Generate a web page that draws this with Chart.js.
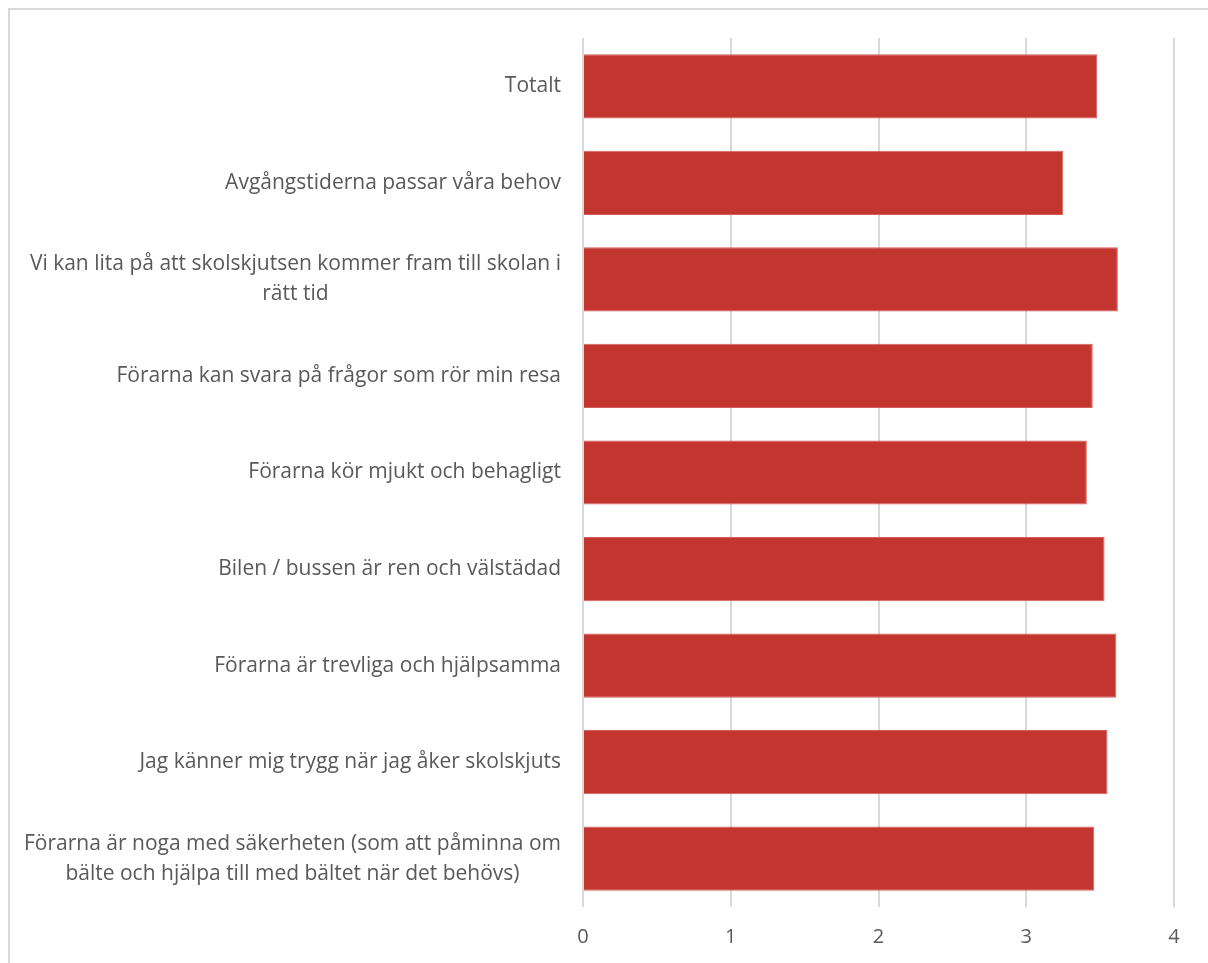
<!DOCTYPE html>
<html>
<head>
<meta charset="utf-8">
<script src="https://cdn.jsdelivr.net/npm/chart.js@4/dist/chart.umd.min.js"></script>
<style>
    html, body { margin: 0; padding: 0; background: #fff; overflow: hidden; }
    .wrap { position: relative; width: 1208px; height: 963px; }
    .frame { position: absolute; left: 8px; top: 8px; width: 1400px; height: 1200px; border: 2px solid #d9d9d9; box-sizing: border-box; }
    .wrap canvas { position: absolute; left: 0; top: 0; }
</style>
</head>
<body>
<div class="wrap">
    <div class="frame"></div>
    <canvas id="myChart" width="1208" height="963"></canvas>
</div>
<script>
const categories = [
    ['Totalt'],
    ['Avgångstiderna passar våra behov'],
    ['Vi kan lita på att skolskjutsen kommer fram till skolan i', 'rätt tid'],
    ['Förarna kan svara på frågor som rör min resa'],
    ['Förarna kör mjukt och behagligt'],
    ['Bilen / bussen är ren och välstädad'],
    ['Förarna är trevliga och hjälpsamma'],
    ['Jag känner mig trygg när jag åker skolskjuts'],
    ['Förarna är noga med säkerheten (som att påminna om', 'bälte och hjälpa till med bältet när det behövs)']
];
const values = [3.48, 3.25, 3.62, 3.45, 3.41, 3.53, 3.61, 3.55, 3.46];
const xTicks = [0, 1, 2, 3, 4];

// Excel style category labels: block right aligned, lines centred inside it
const catLabels = {
    id: 'catLabels',
    afterDraw(chart) {
        const ctx = chart.ctx;
        const y = chart.scales.y;
        const right = y.right - 22;
        ctx.save();
        ctx.font = '21px "Open Sans"';
        ctx.fillStyle = '#595959';
        ctx.textAlign = 'center';
        ctx.textBaseline = 'middle';
        const lh = 30;
        categories.forEach((lines, i) => {
            const cy = y.getPixelForValue(i);
            const w = Math.max(...lines.map(l => ctx.measureText(l).width));
            const cx = right - w / 2;
            lines.forEach((l, j) => {
                ctx.fillText(l, cx, cy + (j - (lines.length - 1) / 2) * lh);
            });
        });
        ctx.restore();
    }
};

const ctx = document.getElementById('myChart').getContext('2d');
new Chart(ctx, {
    type: 'bar',
    data: {
        labels: categories,
        datasets: [
            {
                data: values,
                backgroundColor: '#c3352f',
                borderColor: '#d45f5a',
                borderWidth: 1,
                categoryPercentage: 1,
                barPercentage: 0.665
            }
        ]
    },
    options: {
        indexAxis: 'y',
        responsive: false,
        animation: false,
        layout: { padding: { top: 38, right: 34, left: 0, bottom: 0 } },
        plugins: { legend: { display: false }, tooltip: { enabled: false } },
        scales: {
            x: {
                min: 0,
                max: 4,
                afterBuildTicks: s => { s.ticks = xTicks.map(v => ({ value: v })); },
                afterFit: s => { s.height = 56; },
                grid: { color: '#d9d9d9', lineWidth: 2, drawTicks: false },
                border: { display: false },
                ticks: { color: '#595959', font: { family: 'Open Sans', size: 20 }, padding: 18 }
            },
            y: {
                afterFit: s => { s.width = 583; },
                grid: { display: false },
                border: { display: false },
                ticks: { display: false }
            }
        }
    },
    plugins: [catLabels]
});
</script>
</body>
</html>
